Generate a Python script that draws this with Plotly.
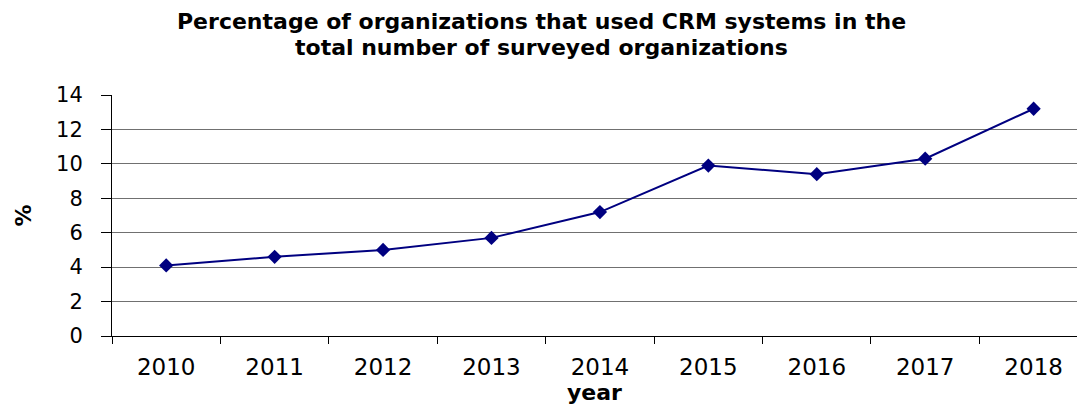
import plotly.graph_objects as go

# Share of organizations using CRM systems, by year
years = ["2010", "2011", "2012", "2013", "2014", "2015", "2016", "2017", "2018"]
crm_share = [4.1, 4.6, 5.0, 5.7, 7.2, 9.9, 9.4, 10.3, 13.2]
y_ticks = [0, 2, 4, 6, 8, 10, 12, 14]

title_lines = ["Percentage of organizations that used CRM systems in the",
               "total number of surveyed organizations"]

FONT = "DejaVu Sans"
NAVY = "#000080"
W, H = 1077, 405

fig = go.Figure()
fig.add_trace(go.Scatter(
    x=years,
    y=crm_share,
    mode="lines+markers",
    line=dict(color=NAVY, width=2),
    marker=dict(symbol="diamond", size=11, color=NAVY),
    showlegend=False,
    hoverinfo="x+y",
))

# Two-line chart heading, placed line by line for tight line spacing
for i, line in enumerate(title_lines):
    fig.add_annotation(
        text=f"<b>{line}</b>",
        xref="paper", yref="paper",
        x=(541 - 112) / (W - 112), y=1 + (95 - (21 + 26 * i)) / (H - 95 - 69),
        xanchor="center", yanchor="middle",
        showarrow=False,
        font=dict(family=FONT, size=22, color="black"),
    )

fig.update_layout(
    width=W,
    height=H,
    margin=dict(l=112, r=0, t=95, b=69),
    paper_bgcolor="white",
    plot_bgcolor="white",
    font=dict(family=FONT, color="black"),
)

fig.update_xaxes(
    type="category",
    range=[-0.5, 8.4],
    automargin=False,
    tickson="boundaries",
    ticks="outside",
    ticklen=7,
    tickcolor="black",
    tickwidth=1,
    showline=True,
    linecolor="black",
    linewidth=1,
    showgrid=False,
    tickfont=dict(family=FONT, size=23, color="black"),
    ticklabelstandoff=10,
    title=dict(text="<b>year</b>", font=dict(family=FONT, size=22, color="black"), standoff=20),
)

fig.update_yaxes(
    range=[0, 14],
    automargin=False,
    tickmode="array",
    tickvals=y_ticks,
    ticktext=[str(v) for v in y_ticks],
    ticks="outside",
    ticklen=10,
    tickcolor="black",
    tickwidth=1,
    showline=True,
    linecolor="black",
    linewidth=1,
    showgrid=True,
    gridcolor="#707070",
    gridwidth=1,
    zeroline=False,
    tickfont=dict(family=FONT, size=21, color="black"),
    ticklabelstandoff=14,
    title=dict(text="<b>%</b>", font=dict(family=FONT, size=22, color="black"), standoff=18),
)

fig.write_html("out.html")
